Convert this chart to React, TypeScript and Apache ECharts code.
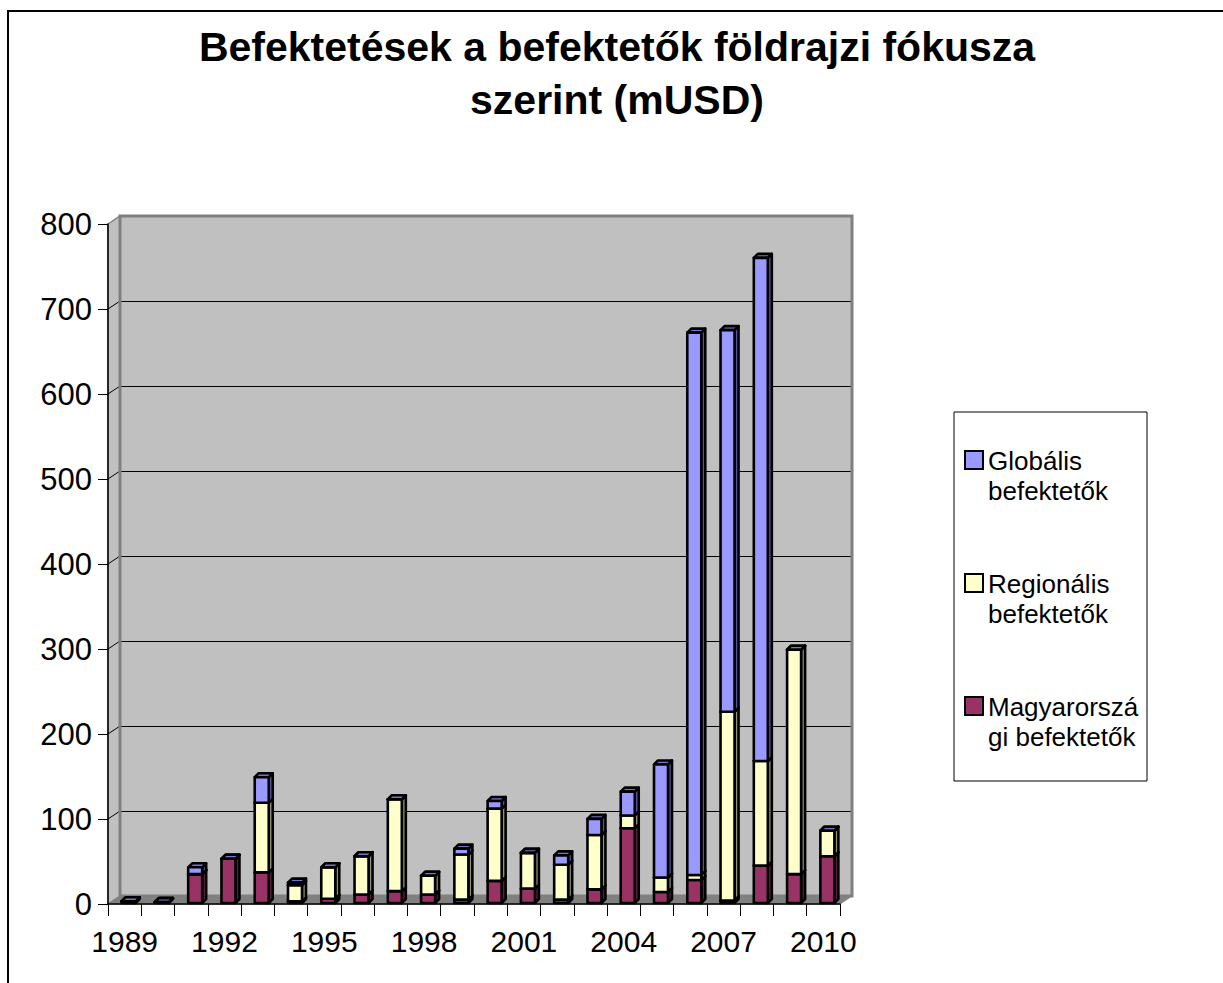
import React, { useEffect, useRef } from "react";
import * as echarts from "echarts";

// ---- Data ----
const years: string[] = [
  "1989", "1990", "1991", "1992", "1993", "1994", "1995", "1996", "1997", "1998", "1999",
  "2000", "2001", "2002", "2003", "2004", "2005", "2006", "2007", "2008", "2009", "2010",
];
const magyar: number[] = [2, 1, 34, 52, 36, 2, 5, 10, 14, 10, 4, 26, 17, 4, 16, 88, 13, 27, 3, 44, 34, 55];
const regionalis: number[] = [0, 0, 0, 0, 82, 19, 37, 45, 108, 22, 53, 85, 42, 41, 64, 15, 17, 6, 222, 123, 264, 30];
const globalis: number[] = [0, 0, 8, 0, 30, 3, 0, 0, 0, 0, 7, 9, 0, 11, 19, 28, 133, 638, 449, 592, 0, 0];
const yTicks: number[] = [0, 100, 200, 300, 400, 500, 600, 700, 800];

const seriesNames: string[] = ["Magyarországi befektetők", "Regionális befektetők", "Globális befektetők"];
const legendOrder: string[] = ["Globális befektetők", "Regionális befektetők", "Magyarországi befektetők"];
const legendLabels: Record<string, string> = {
  "Globális befektetők": "Globális\nbefektetők",
  "Regionális befektetők": "Regionális\nbefektetők",
  "Magyarországi befektetők": "Magyarorszá\ngi befektetők",
};
const titleText = "Befektetések a befektetők földrajzi fókusza\nszerint (mUSD)";

// ---- Styling ----
const FONT = "'Liberation Sans', Arial, sans-serif";
const L = 108, R = 840, T = 224, B = 904, DX = 12, DY = 8;
const palette = [
  { front: "#993366", side: "#5e1f3f", top: "#7a2a52" },
  { front: "#ffffcc", side: "#93936f", top: "#cdcda0" },
  { front: "#9999ff", side: "#5656a6", top: "#7474c8" },
];

function stackData(): number[][][] {
  const layers = [magyar, regionalis, globalis];
  const cum = years.map(() => 0);
  return layers.map((arr) =>
    arr.map((v, i) => {
      const base = cum[i];
      cum[i] += v;
      return [i, base, cum[i]];
    })
  );
}

export default function App() {
  const ref = useRef<HTMLDivElement>(null);
  useEffect(() => {
    document.body.style.margin = "0";
    const chart = echarts.init(ref.current as HTMLDivElement, null, { renderer: "svg" });
    const stacked = stackData();
    const D = 4;

    const makeRender = (si: number) => (params: any, api: any) => {
      const idx = api.value(0);
      const base = api.value(1);
      const top = api.value(2);
      const pb = api.coord([idx, base]);
      const pt = api.coord([idx, top]);
      const x0 = pb[0] - 3;
      const x1 = pb[0] + 11;
      const yb = pb[1] - 1;
      const yt = pt[1] - 1;
      const c = palette[si];
      const stroke = { stroke: "#000", lineWidth: 2.6, lineJoin: "round" };
      return {
        type: "group",
        children: [
          {
            type: "polygon",
            shape: { points: [[x1, yt], [x1 + D, yt - D], [x1 + D, yb - D], [x1, yb]] },
            style: { fill: c.side, ...stroke },
          },
          {
            type: "polygon",
            shape: { points: [[x0, yt], [x0 + D, yt - D], [x1 + D, yt - D], [x1, yt]] },
            style: { fill: c.top, ...stroke },
          },
          {
            type: "rect",
            shape: { x: x0, y: yt, width: x1 - x0, height: yb - yt },
            style: { fill: c.front, ...stroke },
          },
        ],
      };
    };

    const scaleY = (v: number) => B - (v * (B - T)) / 800;
    const connectors = yTicks.slice(1, -1).map((v) => ({
      type: "line",
      z: 1,
      shape: { x1: L, y1: scaleY(v), x2: L + DX, y2: scaleY(v) - DY },
      style: { stroke: "#000", lineWidth: 1 },
    }));

    const option: any = {
      animation: false,
      backgroundColor: "#ffffff",
      title: {
        text: titleText,
        left: 617,
        top: 20,
        textAlign: "center",
        padding: 0,
        textStyle: { fontSize: 41, fontWeight: "bold", lineHeight: 53, fontFamily: FONT, color: "#000" },
      },
      legend: {
        orient: "vertical",
        left: 964,
        top: 445,
        padding: 0,
        itemWidth: 18,
        itemHeight: 60,
        itemGap: 61,
        selectedMode: false,
        icon: "path://M0,0M0,5L18,5L18,23L0,23ZM18,60",
        data: legendOrder,
        formatter: (name: string) => legendLabels[name] || name,
        itemStyle: { borderColor: "#000", borderWidth: 2 },
        textStyle: { fontSize: 26, lineHeight: 30, fontFamily: FONT, color: "#000" },
      },
      grid: [
        { left: L, top: T, width: R - L, height: B - T, show: false },
        {
          left: L + DX, top: T - DY, width: R - L, height: B - T,
          show: true, backgroundColor: "#c0c0c0", borderWidth: 0,
        },
      ],
      xAxis: [
        {
          gridIndex: 0,
          type: "category",
          data: years,
          boundaryGap: true,
          z: 10,
          axisLine: { show: true, lineStyle: { color: "#000", width: 1.5 } },
          axisTick: { show: true, interval: 0, length: 12, lineStyle: { color: "#000", width: 1 } },
          axisLabel: { interval: 2, margin: 22, fontSize: 30, color: "#000", fontFamily: FONT },
          splitLine: { show: false },
        },
        { gridIndex: 1, type: "category", data: years, show: false },
      ],
      yAxis: [
        {
          gridIndex: 0,
          type: "value",
          min: 0,
          max: 800,
          interval: 100,
          z: 10,
          axisLine: { show: true, lineStyle: { color: "#000", width: 1.5 } },
          axisTick: { show: true, length: 10, lineStyle: { color: "#000", width: 1 } },
          axisLabel: { margin: 16, fontSize: 31, color: "#000", fontFamily: FONT },
          splitLine: { show: false },
        },
        {
          gridIndex: 1,
          type: "value",
          min: 0,
          max: 800,
          interval: 100,
          axisLine: { show: false },
          axisTick: { show: false },
          axisLabel: { show: false },
          splitLine: { show: true, lineStyle: { color: "#000", width: 1 } },
        },
      ],
      series: seriesNames.map((name, si) => ({
        name,
        type: "custom",
        xAxisIndex: 0,
        yAxisIndex: 0,
        z: 5,
        itemStyle: { color: palette[si].front },
        renderItem: makeRender(si),
        encode: { x: 0, y: [1, 2] },
        data: stacked[si],
      })),
      graphic: [
        {
          type: "rect",
          z: 0,
          shape: { x: 8, y: 11, width: 1400, height: 1400 },
          style: { fill: "none", stroke: "#000", lineWidth: 2 },
        },
        {
          type: "rect",
          z: 1,
          shape: { x: 954, y: 412, width: 193, height: 369 },
          style: { fill: "none", stroke: "#000", lineWidth: 1 },
        },
        // left side wall
        {
          type: "polygon",
          z: 1,
          shape: { points: [[L, T], [L + DX, T - DY], [L + DX, B - DY], [L, B]] },
          style: { fill: "#c0c0c0", stroke: "#808080", lineWidth: 1.5 },
        },
        ...connectors,
        // back wall border
        {
          type: "rect",
          z: 1,
          shape: { x: L + DX, y: T - DY, width: R - L, height: B - T },
          style: { fill: "none", stroke: "#808080", lineWidth: 3 },
        },
        // floor
        {
          type: "polygon",
          z: 2,
          shape: { points: [[L, B], [L + DX, B - DY], [R + DX, B - DY], [R, B]] },
          style: { fill: "#808080", stroke: "#808080", lineWidth: 1 },
        },
      ],
    };
    chart.setOption(option);
    return () => chart.dispose();
  }, []);
  return <div ref={ref} style={{ width: 1223, height: 983 }} />;
}
